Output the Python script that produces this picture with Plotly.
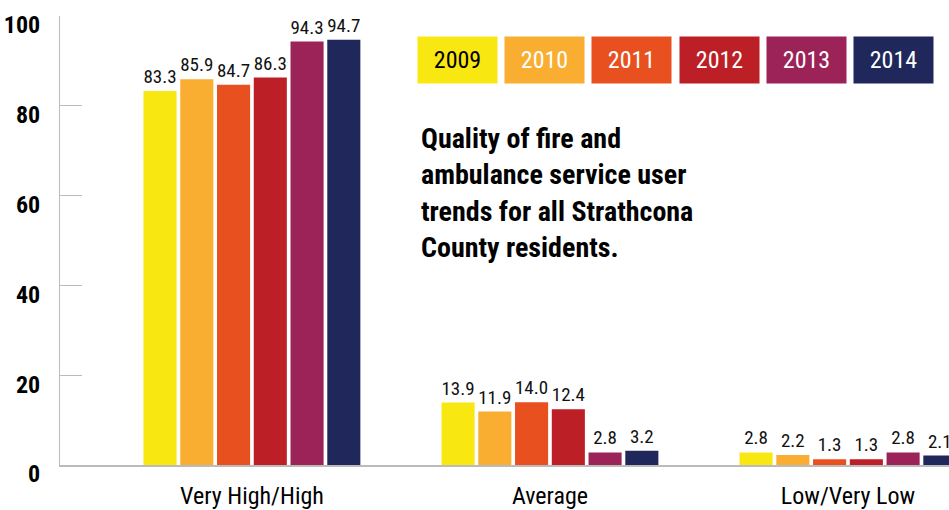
import plotly.graph_objects as go

categories = ["Very High/High", "Average", "Low/Very Low"]
years = ["2009", "2010", "2011", "2012", "2013", "2014"]
values = {
    "2009": [83.3, 13.9, 2.8],
    "2010": [85.9, 11.9, 2.2],
    "2011": [84.7, 14.0, 1.3],
    "2012": [86.3, 12.4, 1.3],
    "2013": [94.3, 2.8, 2.8],
    "2014": [94.7, 3.2, 2.1],
}
colors = ["#F9E712", "#F9AE32", "#E8501F", "#BC1F26", "#9C2358", "#20275A"]
legend_text_colors = ["black", "white", "white", "white", "white", "white"]
y_ticks = [0, 20, 40, 60, 80, 100]
title_text = ("Quality of fire and<br>ambulance service user<br>"
              "trends for all Strathcona<br>County residents.")

FONT = "Roboto Condensed, Liberation Sans Narrow, DejaVu Sans Condensed, Arial Narrow, sans-serif"

W, H = 949, 510
ML, MR, MT, MB = 60, 0, 16, 45
PW = W - ML - MR
PH = H - MT - MB

fig = go.Figure()
for yr, col in zip(years, colors):
    fig.add_trace(go.Bar(
        x=categories, y=values[yr], name=yr, marker_color=col,
        marker_line_width=0,
        texttemplate="%{y:.1f}", textposition="outside",
        textfont=dict(family=FONT, size=19, color="#111"),
        cliponaxis=False, constraintext="none",
    ))

# legend boxes as annotations
box_x0 = 417
box_step = 87.2
for i, (yr, col, tc) in enumerate(zip(years, colors, legend_text_colors)):
    px = box_x0 + i * box_step
    fig.add_annotation(
        xref="paper", yref="paper",
        x=(px - ML) / PW, y=(H - MB - 36) / PH,
        xanchor="left", yanchor="top",
        text=yr, showarrow=False,
        width=79, height=46, bgcolor=col, borderpad=0,
        font=dict(family=FONT, size=24, color=tc),
        align="center", valign="middle",
    )

fig.add_annotation(
    xref="paper", yref="paper",
    x=(419 - ML) / PW, y=(H - MB - 120) / PH,
    xanchor="left", yanchor="top", align="left",
    text="<b>" + title_text + "</b>", showarrow=False,
    font=dict(family=FONT, size=28, color="black"),
)

fig.update_layout(
    width=W, height=H,
    margin=dict(l=ML, r=MR, t=MT, b=MB, pad=0),
    paper_bgcolor="white", plot_bgcolor="white",
    barmode="group", bargap=0.26, bargroupgap=0.1,
    showlegend=False,
    xaxis=dict(
        range=[-0.644, 2.339], showgrid=False, zeroline=False,
        showline=True, linecolor="#bbbbbb", linewidth=1.5,
        ticks="", ticklabelstandoff=8, automargin=False,
        tickfont=dict(family=FONT, size=24, color="black"),
    ),
    yaxis=dict(
        range=[0, 100], tickvals=y_ticks, showgrid=False, zeroline=False,
        showline=True, linecolor="#bbbbbb", linewidth=1,
        ticks="inside", ticklen=22, tickcolor="#bbbbbb", tickwidth=1,
        ticklabelstandoff=14, ticklabelshift=9, automargin=False,
        ticklabeloverflow="allow",
        tickfont=dict(family=FONT, size=24, color="black", weight="bold"),
    ),
)

fig.write_html("out.html")
